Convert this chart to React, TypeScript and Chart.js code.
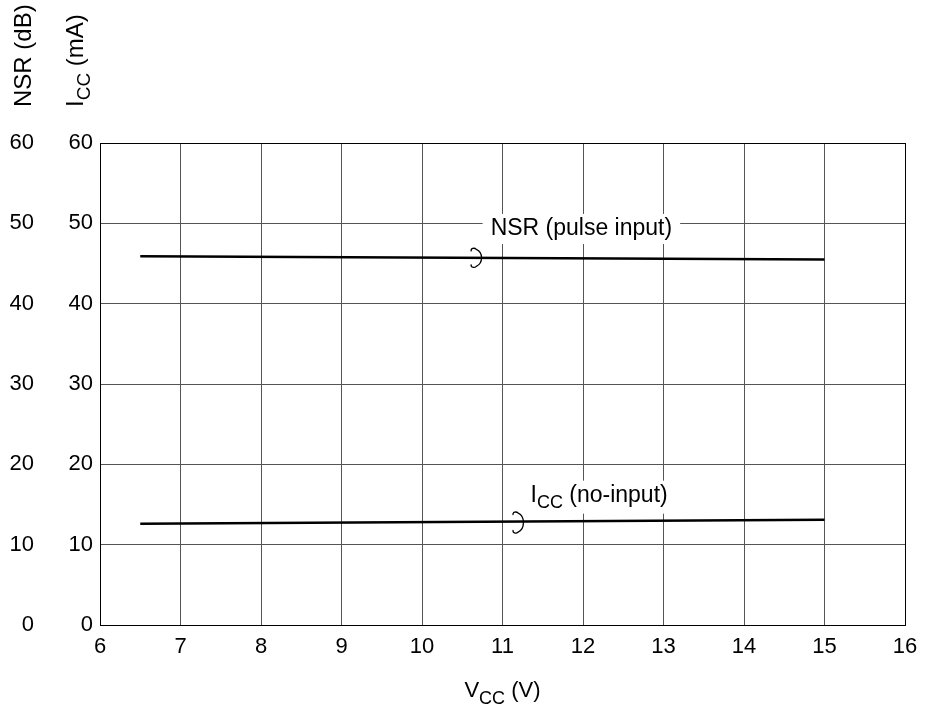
import React, { useEffect, useRef } from 'react';
import { Chart, registerables } from 'chart.js';

Chart.register(...registerables);

// ---- data ----
const vccVolts = [6.5, 15];
const nsrDb = [45.9, 45.5];
const iccMa = [12.6, 13.1];
const xTickValues = [6, 7, 8, 9, 10, 11, 12, 13, 14, 15, 16];
const yTickValues = [0, 10, 20, 30, 40, 50, 60];
const nsrLabel = 'NSR (pulse input)';
const iccLabelMain = 'I';
const iccLabelSub = 'CC';
const iccLabelRest = ' (no-input)';

const FONT = "'Liberation Sans', Arial, Helvetica, sans-serif";

type Part = { t: string; sub?: boolean };

function drawRich(ctx: CanvasRenderingContext2D, parts: Part[], x: number, y: number, size: number) {
  let cx = x;
  for (const p of parts) {
    const fs = p.sub ? Math.round(size * 0.8) : size;
    ctx.font = `${fs}px ${FONT}`;
    ctx.fillText(p.t, cx, p.sub ? y + size * 0.3 : y);
    cx += ctx.measureText(p.t).width;
  }
  return cx - x;
}

function measureRich(ctx: CanvasRenderingContext2D, parts: Part[], size: number) {
  let w = 0;
  for (const p of parts) {
    const fs = p.sub ? Math.round(size * 0.8) : size;
    ctx.font = `${fs}px ${FONT}`;
    w += ctx.measureText(p.t).width;
  }
  return w;
}

function drawCurl(ctx: CanvasRenderingContext2D, left: number, cy: number, w: number, h: number) {
  ctx.beginPath();
  ctx.moveTo(left + 1, cy - h / 2 + 3);
  ctx.bezierCurveTo(left, cy - h / 2, left + 4, cy - h / 2 - 1, left + 6, cy - h / 2 + 1);
  ctx.bezierCurveTo(left + w + 1, cy - h / 2 + 4, left + w + 1, cy + h / 2 - 4, left + 6, cy + h / 2 - 1);
  ctx.bezierCurveTo(left + 4, cy + h / 2 + 1, left, cy + h / 2, left + 1, cy + h / 2 - 3);
  ctx.stroke();
}

const annotations = {
  id: 'annotations',
  afterDatasetsDraw(chart: any) {
    const { ctx, scales } = chart;
    const xs = scales.x;
    const yN = scales.y2;
    const yI = scales.y;
    ctx.save();
    ctx.fillStyle = '#000';
    ctx.strokeStyle = '#000';
    ctx.lineWidth = 1.3;
    ctx.textBaseline = 'middle';
    ctx.textAlign = 'left';

    // NSR label with white box
    const size = 23;
    ctx.font = `${size}px ${FONT}`;
    const nsrW = ctx.measureText(nsrLabel).width;
    const nsrCx = xs.getPixelForValue(11.98);
    const nsrCy = yN.getPixelForValue(49.3);
    ctx.fillStyle = '#fff';
    ctx.fillRect(nsrCx - nsrW / 2 - 8, nsrCy - 15, nsrW + 16, 30);
    ctx.fillStyle = '#000';
    ctx.fillText(nsrLabel, nsrCx - nsrW / 2, nsrCy);

    // ICC label with white box
    const iccParts: Part[] = [{ t: iccLabelMain }, { t: iccLabelSub, sub: true }, { t: iccLabelRest }];
    const iccW = measureRich(ctx, iccParts, size);
    const iccCx = xs.getPixelForValue(12.2);
    const iccCy = yI.getPixelForValue(16.1);
    ctx.fillStyle = '#fff';
    ctx.fillRect(iccCx - iccW / 2 - 8, iccCy - 15, iccW + 16, 33);
    ctx.fillStyle = '#000';
    drawRich(ctx, iccParts, iccCx - iccW / 2, iccCy, size);

    // curls
    const nsrCurlX = xs.getPixelForValue(10.6);
    const nsrAt = nsrDb[0] + (nsrDb[1] - nsrDb[0]) * (10.66 - vccVolts[0]) / (vccVolts[1] - vccVolts[0]);
    drawCurl(ctx, nsrCurlX, yN.getPixelForValue(nsrAt), 12, 19);
    const iccCurlX = xs.getPixelForValue(11.12);
    const iccAt = iccMa[0] + (iccMa[1] - iccMa[0]) * (11.2 - vccVolts[0]) / (vccVolts[1] - vccVolts[0]);
    drawCurl(ctx, iccCurlX, yI.getPixelForValue(iccAt) + 1, 12, 21);

    // axis titles (rotated)
    ctx.textBaseline = 'alphabetic';
    const tsize = 24;
    ctx.save();
    ctx.translate(31, 107);
    ctx.rotate(-Math.PI / 2);
    drawRich(ctx, [{ t: 'NSR (dB)' }], 0, 0, tsize);
    ctx.restore();
    ctx.save();
    ctx.translate(83, 107);
    ctx.rotate(-Math.PI / 2);
    drawRich(ctx, [{ t: 'I' }, { t: 'CC', sub: true }, { t: ' (mA)' }], 0, 0, tsize);
    ctx.restore();

    // x title
    const xParts: Part[] = [{ t: 'V' }, { t: 'CC', sub: true }, { t: ' (V)' }];
    const xw = measureRich(ctx, xParts, 22);
    const xc = (chart.chartArea.left + chart.chartArea.right) / 2;
    drawRich(ctx, xParts, xc - xw / 2, 697, 22);

    ctx.restore();
  },
};

export default function App() {
  const ref = useRef<HTMLCanvasElement | null>(null);
  useEffect(() => {
    if (!ref.current) return;
    const edge = (v: number, lo: number, hi: number) => (v === lo || v === hi ? '#000' : '#555');
    const chart = new Chart(ref.current, {
      type: 'line',
      data: {
        datasets: [
          {
            label: 'NSR (pulse input)',
            data: vccVolts.map((v, i) => ({ x: v, y: nsrDb[i] })),
            yAxisID: 'y2',
            borderColor: '#000',
            borderWidth: 2.6,
            pointRadius: 0,
            fill: false,
          },
          {
            label: 'ICC (no-input)',
            data: vccVolts.map((v, i) => ({ x: v, y: iccMa[i] })),
            yAxisID: 'y',
            borderColor: '#000',
            borderWidth: 2.6,
            pointRadius: 0,
            fill: false,
          },
        ],
      },
      options: {
        animation: false,
        responsive: false,
        devicePixelRatio: 1,
        layout: { padding: { top: 143, right: 23, bottom: 0, left: 0 } },
        plugins: { legend: { display: false }, tooltip: { enabled: false } },
        scales: {
          x: {
            type: 'linear',
            min: 6,
            max: 16,
            afterBuildTicks: (s: any) => {
              s.ticks = xTickValues.map((v) => ({ value: v }));
            },
            afterFit: (s: any) => {
              s.height = 86;
            },
            grid: {
              drawTicks: false,
              color: (c: any) => edge(c.tick?.value, 6, 16),
              lineWidth: 1,
            },
            border: { color: '#000', width: 1 },
            ticks: {
              padding: 9,
              color: '#000',
              font: { family: FONT, size: 22 },
              maxRotation: 0,
            },
          },
          y2: {
            type: 'linear',
            position: 'left',
            weight: 1,
            min: 0,
            max: 60,
            afterBuildTicks: (s: any) => {
              s.ticks = yTickValues.map((v) => ({ value: v }));
            },
            afterFit: (s: any) => {
              s.width = 42;
            },
            grid: { display: false, drawTicks: false },
            border: { display: false },
            ticks: {
              padding: 8,
              color: '#000',
              font: { family: FONT, size: 22 },
              crossAlign: 'near',
            },
          },
          y: {
            type: 'linear',
            position: 'left',
            weight: 0,
            min: 0,
            max: 60,
            afterBuildTicks: (s: any) => {
              s.ticks = yTickValues.map((v) => ({ value: v }));
            },
            afterFit: (s: any) => {
              s.width = 58;
            },
            grid: {
              drawTicks: false,
              color: (c: any) => edge(c.tick?.value, 0, 60),
              lineWidth: 1,
            },
            border: { color: '#000', width: 1 },
            ticks: {
              padding: 7,
              color: '#000',
              font: { family: FONT, size: 22 },
            },
          },
        },
      },
      plugins: [annotations],
    } as any);
    return () => chart.destroy();
  }, []);

  return (
    <div style={{ position: 'fixed', left: 0, top: 0, width: 928, height: 711, background: '#fff' }}>
      <canvas ref={ref} width={928} height={711} style={{ display: 'block', width: 928, height: 711 }} />
    </div>
  );
}
